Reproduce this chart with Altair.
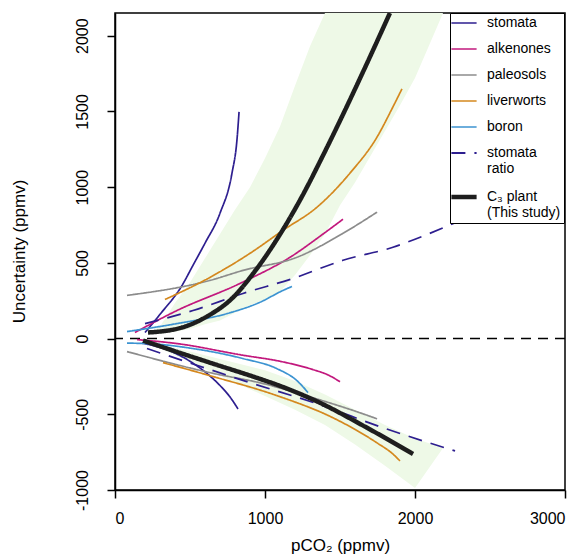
import altair as alt
import pandas as pd

# ---------------- data ----------------
series_order = ["stomata", "alkenones", "paleosols", "liverworts", "boron",
                "stomata ratio", "C₃ plant (This study)"]
series_colors = ["#2D1E8F", "#C2187D", "#8C8C8C", "#D4881E", "#3C93D1",
                 "#2D1E8F", "#1E1E1E"]
series_dash = [[1, 0], [1, 0], [1, 0], [1, 0], [1, 0], [14, 9], [1, 0]]

stomata_up_x = [200, 300, 447, 520, 600, 700, 780, 813, 827]
stomata_up_y = [40, 160, 351, 484, 630, 828, 1093, 1311, 1497]
stomata_lo_x = [180, 350, 500, 600, 700, 770, 820]
stomata_lo_y = [-30, -75, -150, -220, -310, -390, -465]

alk_up_x = [133, 413, 833, 1167, 1400, 1520]
alk_up_y = [40, 185, 364, 537, 700, 788]
alk_lo_x = [147, 413, 853, 1100, 1320, 1420, 1500]
alk_lo_y = [-7, -33, -110, -150, -205, -240, -285]

paleo_up_x = [80, 633, 853, 1213, 1520, 1747]
paleo_up_y = [285, 384, 450, 537, 695, 835]
paleo_lo_x = [80, 633, 1000, 1300, 1633, 1747]
paleo_lo_y = [-86, -225, -300, -385, -490, -530]

liver_up_x = [333, 633, 900, 1120, 1347, 1567, 1747, 1853, 1913]
liver_up_y = [258, 404, 563, 715, 868, 1093, 1331, 1530, 1649]
liver_lo_x = [320, 633, 1080, 1453, 1747, 1850, 1900]
liver_lo_y = [-159, -245, -377, -523, -689, -760, -808]

boron_up_x = [80, 413, 747, 967, 1120, 1180]
boron_up_y = [46, 99, 165, 240, 318, 344]
boron_lo_x = [80, 250, 520, 853, 1080, 1213, 1287]
boron_lo_y = [-30, -35, -66, -132, -199, -278, -357]

ratio_up_x = [200, 520, 853, 1187, 1520, 1853, 2067, 2280]
ratio_up_y = [99, 185, 298, 397, 517, 603, 682, 770]
ratio_lo_x = [213, 900, 1347, 1787, 2267]
ratio_lo_y = [-66, -291, -430, -589, -742]

c3_up_x = [220, 447, 620, 780, 933, 1120, 1253, 1387, 1520, 1653, 1833]
c3_up_y = [40, 73, 150, 265, 445, 720, 950, 1210, 1480, 1760, 2150]
c3_lo_x = [187, 447, 667, 933, 1120, 1347, 1680, 1987]
c3_lo_y = [-13, -99, -170, -255, -320, -415, -589, -762]

# uncertainty envelope of the C3 estimate (light green band)
band_up_x = [220, 300, 400, 500, 600, 700, 800, 900, 1000, 1100, 1200, 1300,
             1400, 1500, 1600, 1700, 1800, 1900, 2000, 2100, 2187]
band_up_hi = [35, 80, 235, 370, 530, 690, 850, 1000, 1190, 1400, 1670, 1930,
              2150, 2150, 2150, 2150, 2150, 2150, 2150, 2150, 2150]
band_up_lo = [30, 30, 45, 65, 95, 119, 170, 220, 260, 310, 420, 550,
              690, 880, 1030, 1200, 1370, 1540, 1720, 1950, 2150]
band_lo_x = [180, 400, 600, 800, 1000, 1200, 1400, 1600, 1800, 2000, 2187]
band_lo_hi = [-5, -60, -110, -160, -210, -280, -370, -470, -570, -660, -722]
band_lo_lo = [-15, -110, -200, -290, -380, -470, -570, -700, -840, -987, -722]

x_ticks = [0, 1000, 2000, 3000]
y_ticks = [-1000, -500, 0, 500, 1000, 1500, 2000]

# ---------------- tables ----------------
rows = []


def add(series, branch, xs, ys):
    for xv, yv in zip(xs, ys):
        rows.append({"series": series, "branch": series + "_" + branch,
                     "pco2": xv, "unc": yv})


add("stomata", "up", stomata_up_x, stomata_up_y)
add("stomata", "lo", stomata_lo_x, stomata_lo_y)
add("alkenones", "up", alk_up_x, alk_up_y)
add("alkenones", "lo", alk_lo_x, alk_lo_y)
add("paleosols", "up", paleo_up_x, paleo_up_y)
add("paleosols", "lo", paleo_lo_x, paleo_lo_y)
add("liverworts", "up", liver_up_x, liver_up_y)
add("liverworts", "lo", liver_lo_x, liver_lo_y)
add("boron", "up", boron_up_x, boron_up_y)
add("boron", "lo", boron_lo_x, boron_lo_y)
add("stomata ratio", "up", ratio_up_x, ratio_up_y)
add("stomata ratio", "lo", ratio_lo_x, ratio_lo_y)
lines_df = pd.DataFrame(rows)

rows = []
add("C₃ plant (This study)", "up", c3_up_x, c3_up_y)
add("C₃ plant (This study)", "lo", c3_lo_x, c3_lo_y)
c3_df = pd.DataFrame(rows)

band_df = pd.concat([
    pd.DataFrame({"pco2": band_up_x, "hi": band_up_hi, "lo": band_up_lo, "part": "up"}),
    pd.DataFrame({"pco2": band_lo_x, "hi": band_lo_hi, "lo": band_lo_lo, "part": "lo"}),
])
zero_df = pd.DataFrame({"unc": [0]})

# ---------------- encodings ----------------
FONT = "Liberation Sans"

x_enc = alt.X("pco2:Q",
              scale=alt.Scale(domain=[0, 3000], nice=False, zero=False),
              axis=alt.Axis(values=x_ticks, title="pCO₂ (ppmv)",
                            labelExpr="'' + datum.value",
                            labelPadding=12, titleY=55, titleX=225,
                            titleBaseline="middle", titleAlign="center"))
y_enc = alt.Y("unc:Q",
              scale=alt.Scale(domain=[-1000, 2150], nice=False, zero=False),
              axis=alt.Axis(values=y_ticks, title="Uncertainty (ppmv)",
                            labelExpr="'' + datum.value",
                            labelAngle=270, labelAlign="center",
                            labelBaseline="bottom", labelPadding=17,
                            titleAngle=270, titleX=-96, titleY=238,
                            titleAlign="center", titleBaseline="middle"))

legend = alt.Legend(title=None, orient="none", legendX=335, legendY=0,
                    symbolType="M-1.8,0H1.8", symbolSize=196, symbolOffset=4,
                    labelFontSize=14, labelFont=FONT, labelOffset=16,
                    rowPadding=12, padding=3, fillColor="white",
                    strokeColor="black", labelLimit=200,
                    labelExpr="datum.label == 'stomata ratio' ? ['stomata', 'ratio'] : "
                              "(datum.label == 'C₃ plant (This study)' ? ['C₃ plant', '(This study)'] : datum.label)",
                    symbolStrokeWidth=alt.ExprRef(
                        expr="datum.value == 'C₃ plant (This study)' ? 4.5 : (datum.value == 'stomata ratio' ? 2 : 1.6)"))

color_enc = alt.Color("series:N", scale=alt.Scale(domain=series_order, range=series_colors), legend=legend)
dash_enc = alt.StrokeDash("series:N", scale=alt.Scale(domain=series_order, range=series_dash), legend=legend)

band = alt.Chart(band_df).mark_area(color="#EEF9E7", clip=True).encode(
    x=x_enc, y=y_enc, y2="lo:Q", detail="part:N"
).transform_calculate(unc="datum.hi")

zero = alt.Chart(zero_df).mark_rule(color="black", strokeDash=[10, 7], strokeWidth=1.5).encode(
    y=alt.Y("unc:Q")
)

others = alt.Chart(lines_df).mark_line(clip=True, interpolate="monotone", strokeWidth=1.7).encode(
    x=x_enc, y=y_enc, color=color_enc, strokeDash=dash_enc,
    detail="branch:N", order="pco2:Q"
)
c3 = alt.Chart(c3_df).mark_line(clip=True, interpolate="monotone", strokeWidth=4.5).encode(
    x=x_enc, y=y_enc, color=color_enc, strokeDash=dash_enc,
    detail="branch:N", order="pco2:Q"
)

chart = alt.layer(band, zero, others, c3).properties(
    width=450, height=477,
    autosize=alt.AutoSizeParams(type="none"),
    padding={"left": 115, "top": 13, "right": 10, "bottom": 68},
).configure_view(
    stroke="black", strokeWidth=1.5
).configure_axis(
    grid=False, domainColor="black", domainWidth=1.5, tickColor="black",
    tickWidth=1.5, tickSize=8, labelFont=FONT, labelFontSize=16,
    labelColor="black", titleFont=FONT, titleFontSize=17,
    titleFontWeight="normal", titleColor="black"
)

chart.save("out.html", embed_options={"renderer": "svg", "actions": False})
